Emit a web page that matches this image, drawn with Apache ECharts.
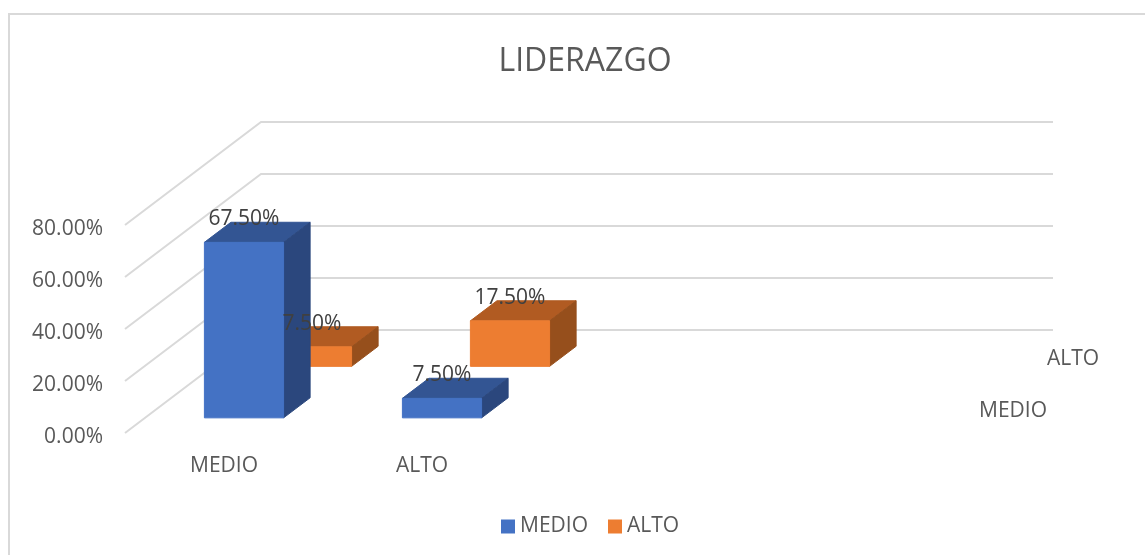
<!DOCTYPE html>
<html>
<head>
<meta charset="utf-8">
<title>LIDERAZGO</title>
<script src="https://cdn.jsdelivr.net/npm/echarts@6/dist/echarts.min.js"></script>
<style>
  html, body { margin: 0; padding: 0; background: #fff; overflow: hidden; }
  .frame { position: absolute; left: 8px; top: 13px; width: 1300px; height: 800px; border: 2px solid #d9d9d9; }
  #chart { position: absolute; left: 0; top: 0; width: 1145px; height: 555px; }
</style>
</head>
<body>
<div class="frame"></div>
<div id="chart"></div>
<script>
const titleText = 'LIDERAZGO';
const categories = ['MEDIO', 'ALTO', '', ''];
const seriesNames = ['MEDIO', 'ALTO'];
const medioValues = [0.675, 0.075];
const altoValues = [0.075, 0.175];
const yTicks = [0, 0.2, 0.4, 0.6, 0.8];

// oblique projection: how far the full floor depth moves a point on screen
const DEPTH_X = 136;
const DEPTH_Y = -103;
const BAR_WIDTH = 0.4;     // share of a category band
const BAR_START = 0.147;   // where a bar starts inside its row, share of the full depth
const BAR_DEPTH = 0.195;

const textColor = '#595959';
const labelColor = '#404040';
const fontName = '"Open Sans", sans-serif';
const fontSize = 21;

const blue = { front: '#4472c4', top: '#335593', side: '#2b477d' };
const orange = { front: '#ed7d31', top: '#b15b22', side: '#964f1c' };

function shift(p, depth) {
  return [p[0] + DEPTH_X * depth, p[1] + DEPTH_Y * depth];
}

function poly(points, color) {
  return {
    type: 'polygon',
    shape: { points: points },
    style: { fill: color, stroke: color, lineWidth: 1 }
  };
}

function pct(v) {
  return (v * 100).toFixed(2) + '%';
}

function barSeries(name, values, row, colors) {
  return {
    name: name,
    type: 'custom',
    coordinateSystem: 'cartesian2d',
    z: 3 - row,
    itemStyle: { color: colors.front },
    data: values.map((v, i) => [i, v]),
    renderItem(params, api) {
      const base = api.coord([api.value(0), 0]);
      const top = api.coord([api.value(0), api.value(1)]);
      const w = api.size([1, 0])[0] * BAR_WIDTH;
      const d0 = row * 0.5 + BAR_START;
      const fl = shift([base[0] - w / 2, base[1]], d0);
      const fr = shift([base[0] + w / 2, base[1]], d0);
      const tl = shift([top[0] - w / 2, top[1]], d0);
      const tr = shift([top[0] + w / 2, top[1]], d0);
      return {
        type: 'group',
        children: [
          poly([tl, tr, shift(tr, BAR_DEPTH), shift(tl, BAR_DEPTH)], colors.top),
          poly([tr, fr, shift(fr, BAR_DEPTH), shift(tr, BAR_DEPTH)], colors.side),
          poly([tl, tr, fr, fl], colors.front)
        ]
      };
    }
  };
}

// the value labels sit above every bar, so they get their own series
function labelSeries(name, values, row) {
  return {
    name: name,
    type: 'custom',
    coordinateSystem: 'cartesian2d',
    z: 10,
    silent: true,
    data: values.map((v, i) => [i, v]),
    renderItem(params, api) {
      const top = api.coord([api.value(0), api.value(1)]);
      const p = shift(top, row * 0.5 + BAR_START);
      return {
        type: 'text',
        style: {
          x: p[0],
          y: p[1] - 23,
          text: pct(api.value(1)),
          fill: labelColor,
          font: fontSize + 'px ' + fontName,
          textAlign: 'center',
          textVerticalAlign: 'middle'
        }
      };
    }
  };
}

const option = {
  animation: false,
  title: {
    text: titleText,
    left: 580,
    top: 41,
    textAlign: 'center',
    textStyle: { color: textColor, fontSize: 32, fontWeight: 'normal', fontFamily: fontName }
  },
  legend: {
    data: seriesNames,
    left: 496,
    top: 511,
    icon: 'rect',
    itemWidth: 14,
    itemHeight: 14,
    itemGap: 20,
    textStyle: { color: textColor, fontSize: fontSize, fontFamily: fontName }
  },
  grid: { left: 125, top: 225, width: 792, height: 208 },
  xAxis: {
    type: 'category',
    data: categories,
    axisLine: { show: false },
    axisTick: { show: false },
    axisLabel: { interval: 0, color: textColor, fontSize: fontSize, fontFamily: fontName, margin: 23 }
  },
  yAxis: {
    type: 'value',
    min: 0,
    max: 0.8,
    interval: 0.2,
    axisLine: { show: false },
    axisTick: { show: false },
    splitLine: { show: false },
    axisLabel: {
      color: textColor, fontSize: fontSize, fontFamily: fontName, margin: 22,
      verticalAlign: 'top',
      lineHeight: 8,
      formatter: (v) => pct(v)
    }
  },
  series: [
    {
      name: 'walls',
      type: 'custom',
      coordinateSystem: 'cartesian2d',
      z: 1,
      silent: true,
      data: yTicks.map((v) => [0, v]),
      renderItem(params, api) {
        const y = api.coord([0, api.value(1)])[1];
        const left = params.coordSys.x;
        const right = left + params.coordSys.width;
        return {
          type: 'polyline',
          shape: { points: [[left, y], shift([left, y], 1), shift([right, y], 1)] },
          style: { fill: null, stroke: '#d9d9d9', lineWidth: 2 }
        };
      }
    },
    {
      name: 'depth',
      type: 'custom',
      coordinateSystem: 'cartesian2d',
      z: 1,
      silent: true,
      data: seriesNames.map((n, i) => [i, n]),
      renderItem(params, api) {
        const row = api.value(0);
        const right = params.coordSys.x + params.coordSys.width;
        const bottom = params.coordSys.y + params.coordSys.height;
        const p = shift([right, bottom], (row + 0.5) * 0.5);
        return {
          type: 'text',
          style: {
            x: p[0] + 28,
            y: p[1] + 3.5,
            text: seriesNames[row],
            fill: textColor,
            font: fontSize + 'px ' + fontName,
            textAlign: 'left',
            textVerticalAlign: 'middle'
          }
        };
      }
    },
    barSeries('ALTO', altoValues, 1, orange),
    barSeries('MEDIO', medioValues, 0, blue),
    labelSeries('ALTO labels', altoValues, 1),
    labelSeries('MEDIO labels', medioValues, 0)
  ]
};

const chart = echarts.init(document.getElementById('chart'), null, { renderer: 'canvas' });
chart.setOption(option);
</script>
</body>
</html>
